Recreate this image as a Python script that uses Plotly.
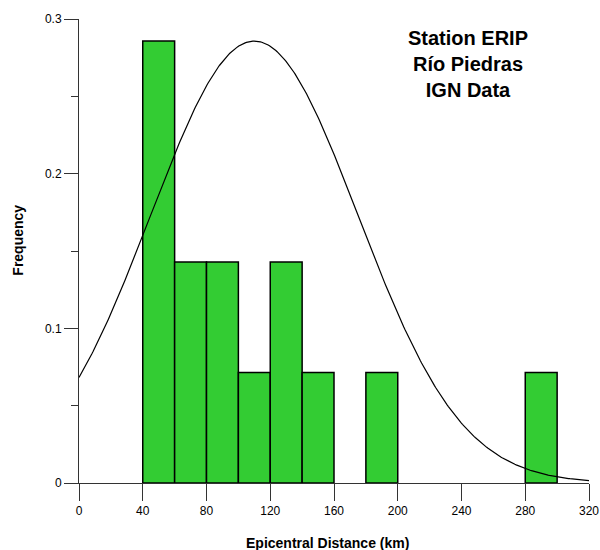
import numpy as np
import plotly.graph_objects as go

# histogram of epicentral distances (bin width 20 km)
bin_left = [40, 60, 80, 100, 120, 140, 180, 280]
frequency = [0.2857, 0.1429, 0.1429, 0.0714, 0.1429, 0.0714, 0.0714, 0.0714]
bin_width = 20

# fitted normal curve, scaled to the tallest bar
curve_mean = 110
curve_sd = 65
curve_peak = 0.2857

x_ticks = [0, 40, 80, 120, 160, 200, 240, 280, 320]
y_ticks = [0, 0.1, 0.2, 0.3]
y_tick_text = ["0", "0.1", "0.2", "0.3"]

font_family = "Liberation Sans, Arial, sans-serif"

curve_x = np.linspace(0, 320, 400)
curve_y = curve_peak * np.exp(-((curve_x - curve_mean) ** 2) / (2 * curve_sd ** 2))

fig = go.Figure()
fig.add_trace(
    go.Bar(
        x=[b + bin_width / 2 for b in bin_left],
        y=frequency,
        width=bin_width,
        marker=dict(color="#33CC33", line=dict(color="black", width=1.5)),
        showlegend=False,
    )
)
fig.add_trace(
    go.Scatter(
        x=curve_x,
        y=curve_y,
        mode="lines",
        line=dict(color="black", width=1.2),
        showlegend=False,
    )
)

axis_common = dict(
    ticks="outside",
    tickcolor="#333",
    showline=True,
    linecolor="#333",
    linewidth=1,
    showgrid=False,
    zeroline=False,
    automargin=False,
    tickfont=dict(size=12),
)

fig.update_layout(
    width=600,
    height=550,
    margin=dict(l=79, r=11, t=19, b=67),
    plot_bgcolor="white",
    paper_bgcolor="white",
    font=dict(family=font_family, color="black", size=12),
    xaxis=dict(range=[0, 320], tickvals=x_ticks, ticklen=17, **axis_common),
    yaxis=dict(
        range=[0, 0.3],
        tickvals=y_ticks,
        ticktext=y_tick_text,
        ticklen=14,
        minor=dict(dtick=0.05, ticks="outside", ticklen=7, tickcolor="#333", showgrid=False),
        **axis_common,
    ),
    annotations=[
        dict(
            text="<b>Station ERIP<br>Río Piedras<br>IGN Data</b>",
            xref="paper", yref="paper",
            x=0.762, y=0.988,
            xanchor="center", yanchor="top",
            align="center",
            showarrow=False,
            font=dict(size=20),
        ),
        dict(
            text="<b>Epicentral Distance (km)</b>",
            xref="paper", yref="paper",
            x=0.488, y=-0.129,
            xanchor="center", yanchor="middle",
            showarrow=False,
            font=dict(size=14),
        ),
        dict(
            text="<b>Frequency</b>",
            xref="paper", yref="paper",
            x=-0.12, y=0.524,
            xanchor="center", yanchor="middle",
            textangle=-90,
            showarrow=False,
            font=dict(size=14),
        ),
    ],
)

# drop the default 8px page margin so the 600x550 figure fills the window
fig.write_html(
    "out.html",
    config={"displayModeBar": False},
    post_script="document.body.style.margin = '0';",
)
